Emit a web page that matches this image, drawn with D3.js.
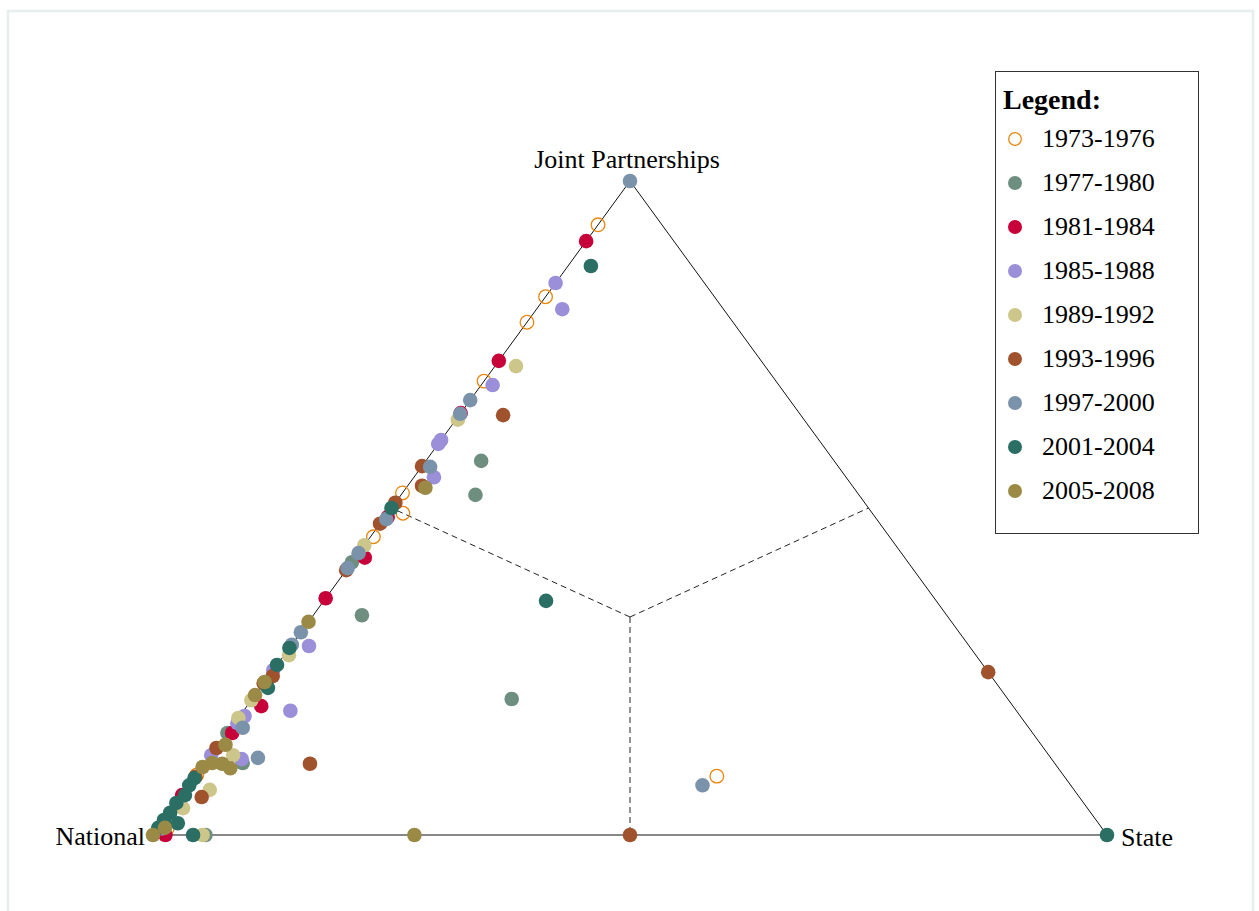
<!DOCTYPE html>
<html>
<head>
<meta charset="utf-8">
<script src="https://cdn.jsdelivr.net/npm/d3@7"></script>
<style>
  body { margin: 0; background: #fff; }
  svg { display: block; font-family: "Liberation Serif", "Times New Roman", serif; }
</style>
</head>
<body>
<script>
// shares in percent: [national, state, joint]
const periods = ['1973-1976', '1977-1980', '1981-1984', '1985-1988', '1989-1992',
                 '1993-1996', '1997-2000', '2001-2004', '2005-2008'];
const colors = ['#e8870f', '#6e8f80', '#c8003a', '#9a8fd8', '#cdc68a',
                '#a0522d', '#7b93aa', '#2a6e64', '#9b8a45'];
const axisLabels = ['National', 'State', 'Joint Partnerships'];

const p1973 = [[6.7,0,93.3],[17.7,0,82.3],[21.6,0,78.4],[30.6,0,69.4],[47.7,0,52.3],
  [49.2,1.6,49.2],[54.1,0.3,45.6],[36.4,54.6,9.0],[90.8,0,9.2],[98,1,1]];
const p1977 = [[37.0,5.8,57.2],[40.2,7.8,52.0],[61.3,5.1,33.6],[52.0,27.2,20.8],[94.5,5.5,0],
  [58.3,0,41.7],[84.4,0,15.6],[85.1,3.9,11.0],[98,0.5,1.5]];
const p1981 = [[9.2,0,90.8],[27.5,0,72.5],[56.6,1.0,42.4],[63.8,0,36.2],[78.8,1.5,19.7],
  [83.9,0.5,15.6],[51.1,0.3,48.6],[35.5,0,64.5],[93.9,0,6.1],[98.7,1.3,0]];
const p1985 = [[15.6,0,84.4],[16.9,2.7,80.4],[30.0,1.2,68.8],[39.6,0,60.4],[40.2,0,59.8],
  [43.2,2.1,54.7],[69.2,1.9,28.9],[76.1,4.9,19.0],[81.3,0.5,18.2],[82.6,0.3,17.1],
  [84.9,3.5,11.6],[87.8,0,12.2],[74.8,0,25.2],[98.5,0.5,1.0]];
const p1989 = [[26.1,2.2,71.7],[36.3,0.2,63.5],[55.7,0,44.3],[72.0,0.5,27.5],[79.4,0,20.6],
  [82.1,0,17.9],[85.5,2.3,12.2],[90.6,2.5,6.9],[94.8,1.1,4.1],[94.8,5.2,0]];
const p1993 = [[31.2,4.6,64.2],[43.6,0,56.4],[45.1,1.5,53.4],[49.2,0,50.8],[52.4,0,47.6],
  [59.5,0,40.5],[75.3,0.4,24.3],[76.8,0,23.2],[86.7,0,13.3],[91.1,0,8.9],[92.0,2.2,5.8],
  [78.1,11.0,10.9],[50,50,0],[0,75.1,24.9]];
const p1997 = [[0,0,100],[33.5,0,66.5],[35.6,0,64.4],[42.8,0.9,56.3],[51.4,0.3,48.3],
  [56.9,0,43.1],[59.2,0,40.8],[69.0,0,31.0],[70.9,0,29.1],[83.1,5.1,11.8],[82.4,1.2,16.4],
  [38.6,53.8,7.6]];
const p2001 = [[10.6,2.4,87.0],[40.9,23.3,35.8],[50,0,50],[71.4,0,28.6],[74.0,0,26.0],
  [76.7,0.8,22.5],[95.8,4.2,0],[0,100,0],[91.3,0,8.7],[92.4,0,7.6],[93.6,0.3,6.1],
  [95.1,0,4.9],[96.5,0.1,3.4],[97.7,0,2.3],[96.5,1.7,1.8],[98.9,0,1.1]];
const p2005 = [[44.9,2.0,53.1],[67.4,0,32.6],[76.6,0,23.4],[78.6,0,21.4],[85.5,0.7,13.8],
  [88.3,0.7,11.0],[89.6,0,10.4],[86.8,3.0,10.2],[87.3,1.8,10.9],[72.6,27.4,0],[100,0,0],
  [98.2,0.7,1.1]];

const series = [p1973, p1977, p1981, p1985, p1989, p1993, p1997, p2001, p2005];

const W = 1259, H = 911;
const svg = d3.select('body').append('svg')
    .attr('width', W)
    .attr('height', H);

// light frame round the chart
svg.append('rect')
    .attr('x', 8).attr('y', 11)
    .attr('width', 1245).attr('height', 940)
    .attr('fill', 'none')
    .attr('stroke', '#e6eef0')
    .attr('stroke-width', 2.5);

// ternary -> screen: x from state + joint/2, y from joint
const x = d3.scaleLinear().domain([0, 100]).range([153, 1107]);
const y = d3.scaleLinear().domain([0, 100]).range([835, 181]);
const pt = d => [x(d[1] + d[2] / 2), y(d[2])];

const vN = pt([100, 0, 0]), vS = pt([0, 100, 0]), vJ = pt([0, 0, 100]);
const centre = pt([100 / 3, 100 / 3, 100 / 3]);
const mids = [pt([50, 0, 50]), pt([0, 50, 50]), pt([50, 50, 0])];

const g = svg.append('g');

g.selectAll('line.split')
  .data(mids)
  .enter().append('line')
    .attr('class', 'split')
    .attr('x1', centre[0]).attr('y1', centre[1])
    .attr('x2', d => d[0]).attr('y2', d => d[1])
    .attr('stroke', '#222')
    .attr('stroke-width', 1)
    .attr('stroke-dasharray', '6,4');

g.append('path')
    .attr('d', d3.line()([vN, vS, vJ]) + 'Z')
    .attr('fill', 'none')
    .attr('stroke', '#111')
    .attr('stroke-width', 1);

// vertex labels
g.append('text').attr('x', vN[0] - 8).attr('y', vN[1] + 10)
    .attr('text-anchor', 'end').attr('font-size', 26).text(axisLabels[0]);
g.append('text').attr('x', vS[0] + 14).attr('y', vS[1] + 11)
    .attr('font-size', 26).text(axisLabels[1]);
g.append('text').attr('x', vJ[0] - 3).attr('y', vJ[1] - 13)
    .attr('text-anchor', 'middle').attr('font-size', 26).text(axisLabels[2]);

// points, one group per period
series.forEach((data, i) => {
  const open = i === 0;
  g.append('g').selectAll('circle')
    .data(data)
    .enter().append('circle')
      .attr('cx', d => pt(d)[0])
      .attr('cy', d => pt(d)[1])
      .attr('r', open ? 6.8 : 7.3)
      .attr('fill', open ? 'none' : colors[i])
      .attr('stroke', open ? colors[i] : 'none')
      .attr('stroke-width', 1.3);
});

// legend
const legend = svg.append('g');
legend.append('rect')
    .attr('x', 995.5).attr('y', 71.5)
    .attr('width', 203).attr('height', 462)
    .attr('fill', '#fff')
    .attr('stroke', '#333')
    .attr('stroke-width', 1);
legend.append('text')
    .attr('x', 1003).attr('y', 109)
    .attr('font-size', 28).attr('font-weight', 'bold')
    .text('Legend:');

const item = legend.selectAll('g.item')
  .data(periods)
  .enter().append('g')
    .attr('class', 'item')
    .attr('transform', (d, i) => `translate(0,${147 + i * 44})`);
item.append('circle')
    .attr('cx', 1015).attr('cy', -8)
    .attr('r', (d, i) => i === 0 ? 6.3 : 7)
    .attr('fill', (d, i) => i === 0 ? 'none' : colors[i])
    .attr('stroke', (d, i) => i === 0 ? colors[i] : 'none')
    .attr('stroke-width', 1.3);
item.append('text')
    .attr('x', 1042).attr('y', 0)
    .attr('font-size', 26)
    .text(d => d);
</script>
</body>
</html>
